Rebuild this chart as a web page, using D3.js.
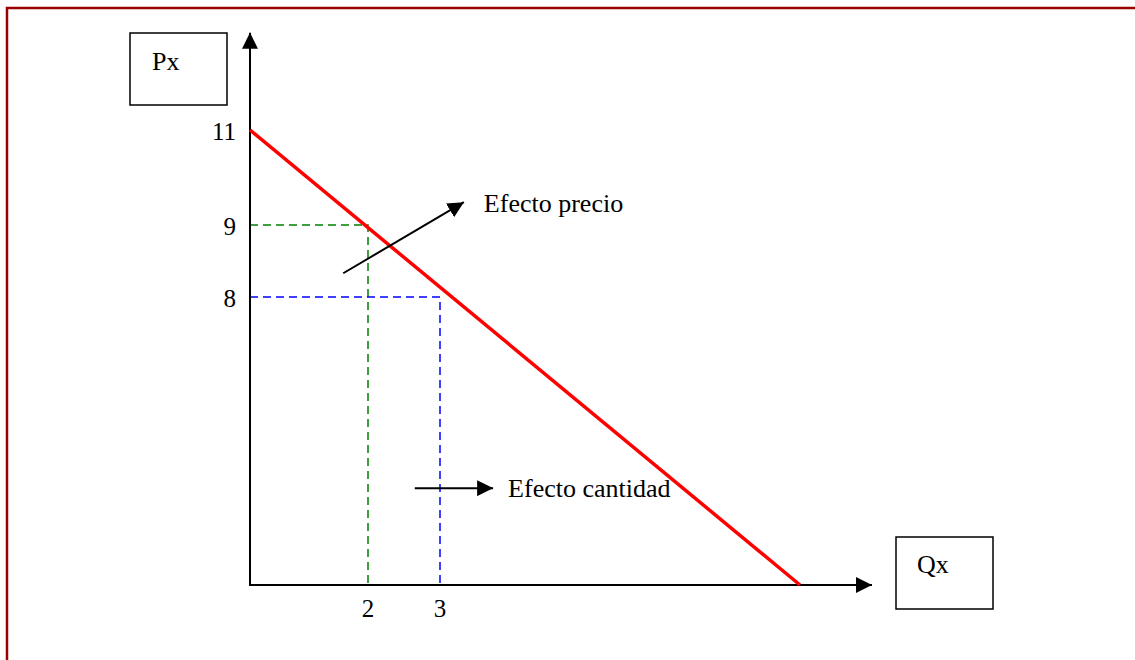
<!DOCTYPE html>
<html>
<head>
<meta charset="utf-8">
<script src="https://cdn.jsdelivr.net/npm/d3@7"></script>
<style>
  body { margin: 0; background: #fff; }
  text { font-family: "Liberation Serif", "Times New Roman", serif; fill: #000; }
</style>
</head>
<body>
<div id="chart"></div>
<script>
// demand curve end points (q, p)
var demand = [[0, 11], [11, 0]];
// reference points
var pointQ = [2, 3];
var pointP = [9, 8];
var guideColors = ["#008000", "#0000ff"];
var priceTicks = [11, 9, 8];
var quantityTicks = [2, 3];
// axis extents in data units
var qMax = 12.6;
var pMax = 13.05;
// annotation arrows: [q1, p1, q2, p2]
var arrowPrice = [1.58, 8.33, 3.53, 9.48];
var arrowQuantity = [2.65, 2.69, 4.18, 2.69];
var labelPrice = "Efecto precio";
var labelQuantity = "Efecto cantidad";

var width = 1135;
var height = 660;

var svg = d3.select("#chart").append("svg")
  .attr("width", width)
  .attr("height", height);

// the drawing is hand made, so the scales are piecewise through the tick positions
var x = d3.scaleLinear()
  .domain([0, 2, 3, 11])
  .range([250, 368, 440, 800]);

var y = d3.scaleLinear()
  .domain([0, 8, 9, 11])
  .range([585, 297, 225, 130]);

// frame
svg.append("rect")
  .attr("x", 7)
  .attr("y", 8)
  .attr("width", width)
  .attr("height", height)
  .attr("fill", "none")
  .attr("stroke", "#990000")
  .attr("stroke-width", 2.5);

var defs = svg.append("defs");
defs.append("marker")
  .attr("id", "head")
  .attr("viewBox", "0 0 16 16")
  .attr("refX", 16)
  .attr("refY", 8)
  .attr("markerWidth", 16)
  .attr("markerHeight", 16)
  .attr("markerUnits", "userSpaceOnUse")
  .attr("orient", "auto")
  .append("path")
  .attr("d", "M0,0L16,8L0,16Z")
  .attr("fill", "#000");

// label boxes
svg.append("rect")
  .attr("x", 130).attr("y", 33)
  .attr("width", 97).attr("height", 72)
  .attr("fill", "none").attr("stroke", "#000").attr("stroke-width", 1.5);
svg.append("text")
  .attr("x", 152).attr("y", 70)
  .attr("font-size", 26)
  .text("Px");

svg.append("rect")
  .attr("x", 896).attr("y", 537)
  .attr("width", 97).attr("height", 72)
  .attr("fill", "none").attr("stroke", "#000").attr("stroke-width", 1.5);
svg.append("text")
  .attr("x", 917).attr("y", 573)
  .attr("font-size", 26)
  .text("Qx");

// dashed guides
svg.selectAll(".guide")
  .data(pointQ)
  .enter()
  .append("path")
  .attr("class", "guide")
  .attr("d", function (d, i) {
    return d3.line()([[x(0), y(pointP[i])], [x(d), y(pointP[i])], [x(d), y(0)]]);
  })
  .attr("fill", "none")
  .attr("stroke", function (d, i) { return guideColors[i] })
  .attr("stroke-width", 1.5)
  .attr("stroke-dasharray", "8,5");

// axes
svg.append("line")
  .attr("x1", x(0)).attr("y1", y(0))
  .attr("x2", x(0)).attr("y2", y(pMax))
  .attr("stroke", "#000").attr("stroke-width", 2)
  .attr("marker-end", "url(#head)");
svg.append("line")
  .attr("x1", x(0) - 1).attr("y1", y(0))
  .attr("x2", x(qMax)).attr("y2", y(0))
  .attr("stroke", "#000").attr("stroke-width", 2)
  .attr("marker-end", "url(#head)");

// demand
svg.append("path")
  .attr("d", d3.line().x(function (d) { return x(d[0]) }).y(function (d) { return y(d[1]) })(demand))
  .attr("fill", "none")
  .attr("stroke", "#ff0000")
  .attr("stroke-width", 3.5);

// tick labels
svg.selectAll(".p-label")
  .data(priceTicks)
  .enter()
  .append("text")
  .attr("class", "p-label")
  .attr("x", x(0) - 14)
  .attr("y", function (d) { return y(d) })
  .attr("dy", "0.38em")
  .attr("text-anchor", "end")
  .attr("font-size", 25)
  .text(function (d) { return d });

svg.selectAll(".q-label")
  .data(quantityTicks)
  .enter()
  .append("text")
  .attr("class", "q-label")
  .attr("x", function (d) { return x(d) })
  .attr("y", y(0) + 32)
  .attr("text-anchor", "middle")
  .attr("font-size", 25)
  .text(function (d) { return d });

// annotations
[arrowPrice, arrowQuantity].forEach(function (a) {
  svg.append("line")
    .attr("x1", x(a[0])).attr("y1", y(a[1]))
    .attr("x2", x(a[2])).attr("y2", y(a[3]))
    .attr("stroke", "#000").attr("stroke-width", 2)
    .attr("marker-end", "url(#head)");
});

svg.append("text")
  .attr("x", x(arrowPrice[2]) + 20)
  .attr("y", y(arrowPrice[3]) + 10)
  .attr("font-size", 26)
  .text(labelPrice);

svg.append("text")
  .attr("x", x(arrowQuantity[2]) + 15)
  .attr("y", y(arrowQuantity[3]) + 9)
  .attr("font-size", 26)
  .text(labelQuantity);
</script>
</body>
</html>
